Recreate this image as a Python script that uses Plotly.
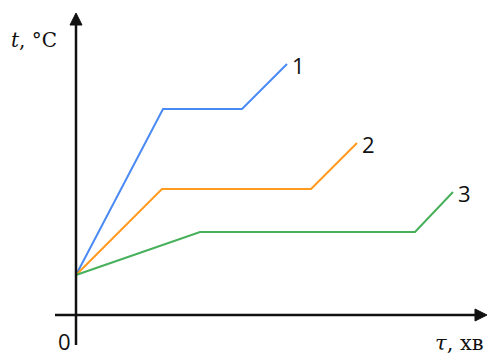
import plotly.graph_objects as go

# Data (arbitrary units: time in min, temperature in °C)
series_names = ["1", "2", "3"]
time_1 = [0, 8.7, 16.6, 21.1]
temp_1 = [4.0, 20.6, 20.6, 25.1]
time_2 = [0, 8.6, 23.5, 28.1]
temp_2 = [4.0, 12.6, 12.6, 17.2]
time_3 = [0, 12.4, 33.9, 37.7]
temp_3 = [4.0, 8.3, 8.3, 12.3]
colors = ["#4a8af4", "#ff9a1e", "#47b05a"]

times = [time_1, time_2, time_3]
temps = [temp_1, temp_2, temp_3]

fig = go.Figure()
for name, t, y, c in zip(series_names, times, temps, colors):
    fig.add_trace(go.Scatter(x=t, y=y, mode="lines", line=dict(color=c, width=2),
                             showlegend=False, hoverinfo="skip"))

axis_color = "#111111"
# axis lines
fig.add_shape(type="line", x0=0, x1=0, y0=-3.0, y1=29.2, line=dict(color=axis_color, width=2.5))
fig.add_shape(type="line", x0=-2.1, x1=40.2, y0=0, y1=0, line=dict(color=axis_color, width=2.5))
# arrow heads
fig.add_shape(type="path", path="M -0.6,29.0 L 0.6,29.0 L 0,30.2 Z",
              fillcolor=axis_color, line=dict(color=axis_color, width=1))
fig.add_shape(type="path", path="M 39.9,0.6 L 39.9,-0.6 L 41.1,0 Z",
              fillcolor=axis_color, line=dict(color=axis_color, width=1))

font_serif = "DejaVu Serif, Liberation Serif, serif"
font_sans = "Open Sans, Liberation Sans, sans-serif"

# series labels at line ends
for name, t, y in zip(series_names, times, temps):
    fig.add_annotation(x=t[-1], y=y[-1], text=name, showarrow=False,
                       xanchor="left", yanchor="middle", xshift=3, yshift=-1,
                       font=dict(family=font_sans, size=22, color="#111111"))

fig.add_annotation(x=-4.2, y=27.5, text="<i>t</i>, °C", showarrow=False,
                   xanchor="center", yanchor="middle",
                   font=dict(family=font_serif, size=20, color="#111111"))
fig.add_annotation(x=38.3, y=-2.8, text="<i>τ</i>, хв", showarrow=False,
                   xanchor="center", yanchor="middle",
                   font=dict(family=font_serif, size=21, color="#111111"))
fig.add_annotation(x=-1.2, y=-2.6, text="0", showarrow=False,
                   xanchor="center", yanchor="middle",
                   font=dict(family=font_sans, size=22, color="#111111"))

fig.update_xaxes(range=[-7.6, 42.6], visible=False, fixedrange=True)
fig.update_yaxes(range=[-4.9, 31.5], visible=False, fixedrange=True)
fig.update_layout(width=502, height=364, margin=dict(l=0, r=0, t=0, b=0),
                  plot_bgcolor="white", paper_bgcolor="white")

fig.write_html("out.html")
